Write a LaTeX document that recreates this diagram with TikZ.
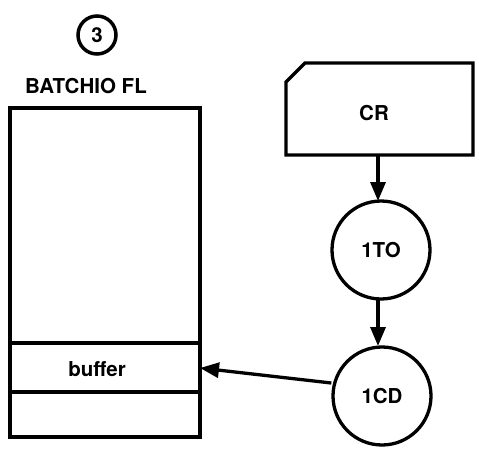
\documentclass[tikz,border=0pt]{standalone}
\usepackage{fontspec}
\setmainfont{TeX Gyre Heros}
\usetikzlibrary{arrows.meta}
\begin{document}
\begin{tikzpicture}[x=1pt,y=-1pt,
  line width=3.3pt,
  lbl/.style={font=\bfseries\fontsize{20.5}{22}\selectfont, inner sep=0pt},
  proc/.style={draw, circle, minimum size=98pt, inner sep=0pt, font=\bfseries\fontsize{20.5}{22}\selectfont},
  arr/.style={-{Triangle[length=19pt,width=15pt]}, line width=3.3pt}]
\useasboundingbox (0,0) rectangle (479,448);
% numbered circle
\node[draw, circle, minimum size=38pt, inner sep=0pt, line width=3.5pt, font=\bfseries\fontsize{20.5}{22}\selectfont] (num) at (97,35) {3};
\node[lbl] (title) at (86,86) {BATCHIO FL};
% file box
\draw (10,108) rectangle (200,437);
\draw (10,343) -- (200,343);
\draw (10,392) -- (200,392);
\node[lbl] (buf) at (97,369) {buffer};
\coordinate (bufR) at (200,368);
% card reader
\draw (305,63) -- (473,63) -- (473,155) -- (286,155) -- (286,82) -- cycle;
\node[lbl] (cr) at (374,113) {CR};
\coordinate (crB) at (378,155);
% processes
\node[proc] (to) at (381,250) {1TO};
\node[proc] (cd) at (382,396) {1CD};
\draw[arr] (crB) -- (378,201);
\draw[arr] (378,300) -- (378,346);
\draw[arr] (cd.west |- 0,383) -- (bufR);
\end{tikzpicture}
\end{document}
